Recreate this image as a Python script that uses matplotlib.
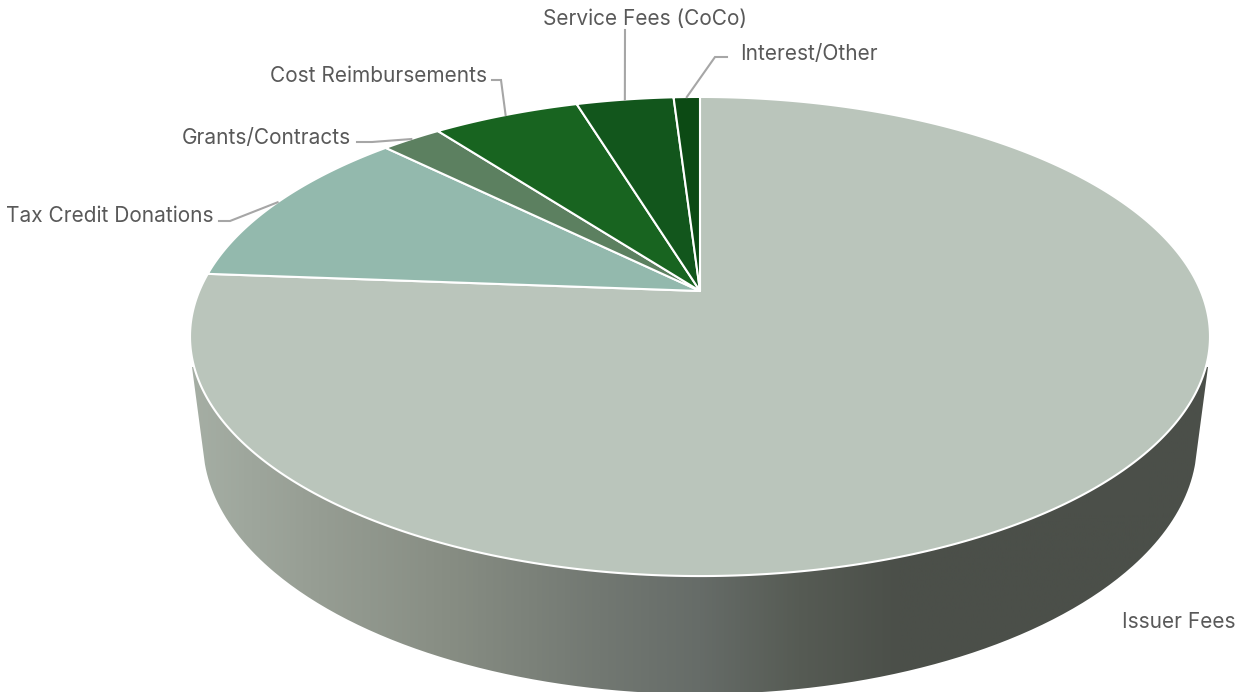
"""
Revenue sources as a tilted 3D pie, drawn by hand since matplotlib has no 3D pie.
"""

import matplotlib
matplotlib.use("Agg")
import matplotlib.pyplot as plt
import numpy as np
from matplotlib.colors import LinearSegmentedColormap
from matplotlib.patches import PathPatch, Polygon
from matplotlib.path import Path

# Revenue share in percent, clockwise from 12 o'clock
sources = ["Issuer Fees", "Tax Credit Donations", "Grants/Contracts",
           "Cost Reimbursements", "Service Fees (CoCo)", "Interest/Other"]
shares = [76.2, 11.2, 2.3, 5.6, 3.7, 1.0]
slice_colors = ["#bac5bb", "#93b9ad", "#5c8060", "#186420", "#12561c", "#0c4a14"]

W, H = 1235, 692
TEXT = "#595959"
LEADER = "#a6a6a6"

# Perspective of the top face: apex position, x/y scale, foreshortening
CX, CY = 700.0, 291.0
SX, SY, K = 500.7, 230.9, 0.19


def project(theta):
    """Map clockwise angle from the top of the disc to canvas pixels."""
    x, y = np.sin(theta), np.cos(theta)
    d = 1 + K * y
    return CX + SX * x / d, CY - SY * y / d


fig = plt.figure(figsize=(W / 100, H / 100), dpi=100)
ax = fig.add_axes([0, 0, 1, 1])

# Side wall: lower rim ellipse joined to the top face, with a left-to-right shade
t = np.linspace(np.radians(175), np.radians(5), 300)
wall_x = np.r_[192, 700 + 497 * np.cos(t), 1208]
wall_y = np.r_[367, 442 + 252 * np.sin(t), 367]
shade = LinearSegmentedColormap.from_list("wall", [
    (0.00, "#a5aea4"), (0.116, "#979e94"), (0.254, "#878d83"), (0.40, "#727872"),
    (0.50, "#666c68"), (0.598, "#565b54"), (0.697, "#4b4f49"), (1.00, "#4b4f49")])
img = ax.imshow(np.linspace(0, 1, 512)[None, :], cmap=shade, aspect="auto",
                extent=[192, 1208, 692, 340], zorder=1)
img.set_clip_path(PathPatch(Path(np.c_[wall_x, wall_y]), transform=ax.transData))

# Top face slices
edges = np.r_[0, np.cumsum(shares)] / np.sum(shares) * 2 * np.pi
for i, color in enumerate(slice_colors):
    th = np.linspace(edges[i], edges[i + 1], 400)
    px, py = project(th)
    pts = np.c_[np.r_[CX, px], np.r_[CY, py]]
    ax.add_patch(Polygon(pts, closed=True, facecolor=color, edgecolor="white",
                         linewidth=1.5, joinstyle="round", zorder=2))

# Leader lines run from the label elbow to the middle of each slice's rim
label_pos = [(1122, 621, "left"), (214, 214, "right"), (351, 136, "right"),
             (487, 74, "right"), (645, 17, "center"), (740, 52, "left")]
elbows = [None, [(219, 221), (230, 221)], [(357, 142), (372, 142)],
          [(492, 80), (501, 80)], [(625, 30)], [(727, 57), (715, 57)]]
mids = (edges[:-1] + edges[1:]) / 2

for i, name in enumerate(sources):
    lx, ly, ha = label_pos[i]
    ax.text(lx, ly + 1.5, name, ha=ha, va="center", fontsize=15.0, color=TEXT,
            family=["Inter", "DejaVu Sans"], zorder=4)
    if elbows[i] is not None:
        ex, ey = project(mids[i])
        xs = [p[0] for p in elbows[i]] + [ex]
        ys = [p[1] for p in elbows[i]] + [ey]
        ax.plot(xs, ys, color=LEADER, linewidth=1.5, solid_joinstyle="miter", zorder=3)

ax.set_xlim(0, W)
ax.set_ylim(H, 0)
ax.axis("off")
fig.savefig("out.png", dpi=100, facecolor="white")
plt.close(fig)
